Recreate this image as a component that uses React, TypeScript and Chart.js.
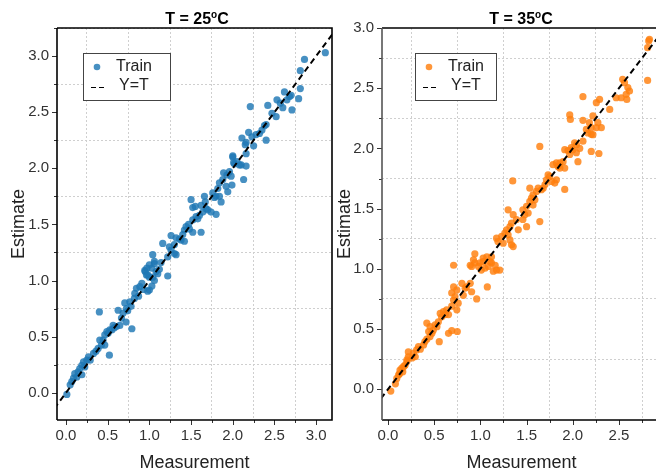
import React, { useEffect, useRef } from 'react';
import { Chart, registerables } from 'chart.js';

Chart.register(...registerables);

// ---------- data ----------
const MEAS_25 = [
  0.01, 0.05, 0.07, 0.09, 0.13, 0.19, 0.105, 0.145, 0.165, 0.225, 0.19, 0.21, 0.25, 0.29, 0.27, 0.52,
  0.385, 0.425, 0.465, 0.405, 0.445, 0.465, 0.505, 0.49, 0.525, 0.565, 0.605, 0.645, 0.79, 0.72, 0.665,
  0.685, 0.625, 0.40, 0.725, 0.705, 0.765, 0.82, 0.825, 0.845, 0.885, 0.91, 0.98, 1.00, 1.03, 1.06, 1.00,
  0.965, 0.945, 1.10, 1.03, 1.06, 1.22, 0.97, 1.00, 1.06, 1.04, 1.08, 0.95, 0.98, 1.04, 1.22, 1.30, 1.32,
  1.26, 1.24, 1.16, 1.30, 1.42, 1.38, 1.32, 1.26, 1.52, 1.62, 1.42, 1.48, 1.44, 1.58, 1.52, 1.56, 1.70,
  1.74, 1.80, 1.55, 1.52, 1.50, 1.64, 1.68, 1.62, 1.67, 1.66, 1.86, 1.80, 1.84, 1.82, 1.84, 1.94, 1.92,
  1.99, 2.13, 1.98, 1.88, 1.93, 1.89, 2.16, 2.10, 2.02, 2.00, 2.16, 2.15, 2.11, 2.01, 2.08, 2.00, 2.16,
  2.25, 2.23, 2.40, 2.19, 2.32, 2.38, 2.40, 2.21, 2.42, 2.52, 2.60, 2.53, 2.65, 2.68, 2.70, 2.62, 2.71,
  2.79, 2.81, 2.81, 2.86, 3.11,
  0.33, 0.36, 0.55, 0.58, 0.74, 0.78, 0.87, 0.93, 1.12, 1.14, 1.36, 1.40, 1.47, 1.60, 1.76, 1.78, 1.96,
  2.05, 2.28, 2.35, 2.47, 2.57,
];
const EST_25 = [
  -0.015, 0.07, 0.10, 0.13, 0.14, 0.16, 0.17, 0.185, 0.215, 0.23, 0.245, 0.275, 0.29, 0.29, 0.32, 0.335,
  0.395, 0.425, 0.425, 0.47, 0.47, 0.515, 0.53, 0.545, 0.56, 0.60, 0.59, 0.60, 0.57, 0.63, 0.665,
  0.71, 0.735, 0.72, 0.75, 0.80, 0.81, 0.84, 0.885, 0.93, 0.945, 0.975, 0.905, 0.915, 0.95, 1.00, 1.03,
  1.05, 1.09, 1.06, 1.11, 1.15, 1.04, 1.11, 1.14, 1.17, 1.23, 1.08, 1.08, 1.05, 1.03, 1.21, 1.24, 1.23,
  1.27, 1.30, 1.33, 1.32, 1.35, 1.36, 1.38, 1.40, 1.43, 1.43, 1.45, 1.46, 1.48, 1.55, 1.54, 1.57, 1.63,
  1.61, 1.59, 1.66, 1.65, 1.72, 1.61, 1.64, 1.67, 1.70, 1.75, 1.70, 1.75, 1.75, 1.82, 1.87, 1.79, 1.84,
  1.85, 1.90, 1.93, 1.90, 1.94, 1.96, 2.02, 2.03, 2.04, 2.10, 2.13, 2.21, 2.27, 2.05, 2.03, 2.11, 2.23,
  2.20, 2.28, 2.25, 2.32, 2.31, 2.38, 2.39, 2.55, 2.56, 2.46, 2.54, 2.61, 2.61, 2.64, 2.65, 2.68, 2.52,
  2.62, 2.71, 2.87, 2.97, 3.03,
  0.35, 0.37, 0.56, 0.58, 0.73, 0.77, 0.86, 0.92, 1.10, 1.16, 1.37, 1.41, 1.50, 1.58, 1.78, 1.74, 1.97,
  2.06, 2.30, 2.34, 2.49, 2.58,
];

const MEAS_35 = [
  0.03, 0.08, 0.095, 0.115, 0.125, 0.16, 0.13, 0.15, 0.17, 0.185, 0.205, 0.205, 0.22, 0.26, 0.295, 0.275,
  0.22, 0.31, 0.35, 0.33, 0.385, 0.555, 0.40, 0.42, 0.455, 0.75, 0.655, 0.69, 0.475, 0.44, 0.49, 0.455,
  0.53, 0.51, 0.42, 0.545, 0.58, 0.565, 0.62, 0.655, 0.60, 0.635, 0.745, 0.69, 0.76, 0.71, 0.96, 0.725,
  0.815, 0.69, 0.905, 0.745, 0.835, 0.71, 0.85, 1.075, 0.80, 0.89, 0.71, 0.89, 0.94, 0.98, 1.01, 1.03,
  1.085, 1.12, 1.175, 1.21, 0.995, 1.05, 0.94, 0.925, 0.905, 1.03, 1.07, 1.105, 1.12, 1.16, 1.14, 1.175,
  1.19, 1.23, 1.247, 1.265, 1.284, 1.30, 1.32, 1.337, 1.355, 1.32, 1.337, 1.30, 1.355, 1.39, 1.41, 1.46,
  1.48, 1.46, 1.50, 1.517, 1.50, 1.535, 1.553, 1.57, 1.59, 1.57, 1.607, 1.643, 1.625, 1.66, 1.68, 1.70,
  1.715, 1.733, 1.75, 1.77, 1.805, 1.823, 1.913, 1.35, 1.535, 1.643, 1.787, 1.823, 1.84, 1.86, 1.895,
  1.913, 1.86, 1.913, 1.948, 1.967, 2.00, 2.04, 2.056, 2.075, 2.11, 2.20, 2.164, 2.218, 2.283, 2.039,
  1.984, 2.02, 1.967, 1.974, 2.11, 2.147, 2.20, 2.255, 2.309, 2.20, 2.218, 2.18, 2.272, 2.40, 2.255, 2.29,
  2.11, 2.47, 2.524, 2.585, 2.578, 2.614, 2.596, 2.56, 2.54, 2.81, 2.81, 2.822, 2.83,
];
const EST_35 = [
  -0.015, 0.045, 0.09, 0.12, 0.13, 0.145, 0.16, 0.175, 0.19, 0.20, 0.23, 0.245, 0.27, 0.26, 0.27, 0.30,
  0.31, 0.327, 0.333, 0.355, 0.368, 0.395, 0.396, 0.416, 0.438, 0.48, 0.465, 0.487, 0.466, 0.48, 0.49, 0.52,
  0.52, 0.535, 0.55, 0.56, 0.60, 0.63, 0.62, 0.62, 0.645, 0.66, 0.66, 0.69, 0.715, 0.74, 0.75, 0.77,
  0.78, 0.80, 0.81, 0.825, 0.84, 0.85, 0.85, 0.85, 0.88, 0.88, 1.03, 1.03, 1.05, 1.02, 0.99, 1.06,
  1.02, 1.05, 0.99, 0.99, 1.05, 1.005, 1.125, 1.075, 1.02, 1.09, 1.10, 1.06, 1.10, 1.03, 0.98, 1.255,
  1.227, 1.27, 1.213, 1.297, 1.324, 1.283, 1.24, 1.20, 1.185, 1.35, 1.38, 1.49, 1.45, 1.41, 1.324, 1.41,
  1.45, 1.49, 1.52, 1.463, 1.35, 1.56, 1.588, 1.53, 1.573, 1.615, 1.643, 1.393, 1.67, 1.657, 1.67, 1.70,
  1.74, 1.78, 1.767, 1.726, 1.712, 1.74, 1.66, 1.73, 1.67, 2.017, 1.865, 1.88, 1.85, 1.88, 1.89,
  1.837, 1.837, 1.99, 1.983, 1.95, 1.99, 2.03, 1.89, 2.00, 2.06, 1.975, 2.128, 2.114, 1.958, 1.964,
  2.006, 2.047, 2.278, 2.241, 2.233, 2.158, 2.172, 2.172, 2.172, 2.117, 2.27, 2.214, 2.214, 2.324, 2.38, 2.407,
  2.43, 2.421, 2.421, 2.407, 2.449, 2.477, 2.505, 2.546, 2.574, 2.565, 2.837, 2.893, 2.906,
];

const IDENTITY = [-1, 4];

const X_TICKS_25 = [0, 0.25, 0.5, 0.75, 1.0, 1.25, 1.5, 1.75, 2.0, 2.25, 2.5, 2.75, 3.0];
const Y_TICKS_25 = [0, 0.25, 0.5, 0.75, 1.0, 1.25, 1.5, 1.75, 2.0, 2.25, 2.5, 2.75, 3.0, 3.25];
const X_TICKS_35 = [0, 0.25, 0.5, 0.75, 1.0, 1.25, 1.5, 1.75, 2.0, 2.25, 2.5, 2.75];
const Y_TICKS_35 = [0, 0.25, 0.5, 0.75, 1.0, 1.25, 1.5, 1.75, 2.0, 2.25, 2.5, 2.75, 3.0];

const TITLE_25 = ['T = 25', 'o', 'C'];
const TITLE_35 = ['T = 35', 'o', 'C'];
const LEGEND_LABELS = ['Train', 'Y=T'];
const X_LABEL = 'Measurement';
const Y_LABEL = 'Estimate';

// ---------- styling ----------
const FONT = "'Liberation Sans', Arial, Helvetica, sans-serif";
const isMajor = (v: number) => Math.abs(v * 2 - Math.round(v * 2)) < 1e-6;

type PanelCfg = {
  id: string;
  left: number;
  width: number;
  yWidth: number;
  xMin: number; xMax: number; yMin: number; yMax: number;
  xTicks: number[]; yTicks: number[];
  meas: number[]; est: number[];
  color: string;
  title: string[];
  titleCx: number;
  legend: { x: number; y: number; w: number; h: number };
  leftBorder: string;
};

const PANELS: PanelCfg[] = [
  {
    id: 'p25', left: 0, width: 336, yWidth: 57,
    xMin: -0.108, xMax: 3.19, yMin: -0.243, yMax: 3.25,
    xTicks: X_TICKS_25, yTicks: Y_TICKS_25,
    meas: MEAS_25, est: EST_25,
    color: 'rgba(31,119,180,0.82)',
    title: TITLE_25, titleCx: 197,
    legend: { x: 83, y: 53, w: 87, h: 47 },
    leftBorder: '#000',
  },
  {
    id: 'p35', left: 326, width: 339, yWidth: 56,
    xMin: -0.065, xMax: 2.955, yMin: -0.255, yMax: 3.0,
    xTicks: X_TICKS_35, yTicks: Y_TICKS_35,
    meas: MEAS_35, est: EST_35,
    color: 'rgba(255,127,14,0.82)',
    title: TITLE_35, titleCx: 195,
    legend: { x: 89, y: 53, w: 81, h: 47 },
    leftBorder: '#555',
  },
];

function makeDecor(cfg: PanelCfg) {
  return {
    id: 'decor_' + cfg.id,
    afterDraw(chart: any) {
      const { ctx, chartArea: a, scales } = chart;
      const xs = scales.x, ys = scales.y;
      ctx.save();
      // tick marks
      ctx.strokeStyle = '#333';
      ctx.lineWidth = 1;
      ctx.beginPath();
      for (const v of cfg.xTicks) {
        const px = Math.round(xs.getPixelForValue(v)) + 0.5;
        const len = isMajor(v) ? 5 : 3;
        ctx.moveTo(px, a.bottom);
        ctx.lineTo(px, a.bottom + len);
      }
      for (const v of cfg.yTicks) {
        if (v > cfg.yMax + 1e-9) continue;
        const py = Math.round(ys.getPixelForValue(v)) + 0.5;
        const len = isMajor(v) ? 5 : 3;
        ctx.moveTo(a.left, py);
        ctx.lineTo(a.left - len, py);
      }
      ctx.stroke();
      // frame
      ctx.lineWidth = 1.6;
      ctx.strokeStyle = '#000';
      ctx.beginPath();
      ctx.moveTo(a.left, a.top);
      ctx.lineTo(a.right, a.top);
      ctx.lineTo(a.right, a.bottom);
      ctx.lineTo(a.left, a.bottom);
      ctx.stroke();
      ctx.strokeStyle = cfg.leftBorder;
      ctx.beginPath();
      ctx.moveTo(a.left, a.top);
      ctx.lineTo(a.left, a.bottom);
      ctx.stroke();

      // title with superscript
      const [pre, sup, post] = cfg.title;
      const big = `bold 16px ${FONT}`;
      const small = `bold 10px ${FONT}`;
      ctx.font = big;
      const w1 = ctx.measureText(pre).width;
      const w3 = ctx.measureText(post).width;
      ctx.font = small;
      const w2 = ctx.measureText(sup).width;
      const total = w1 + w2 + w3;
      let tx = cfg.titleCx - total / 2;
      const ty = 24;
      ctx.fillStyle = '#000';
      ctx.textBaseline = 'alphabetic';
      ctx.textAlign = 'left';
      ctx.font = big;
      ctx.fillText(pre, tx, ty);
      tx += w1;
      ctx.font = small;
      ctx.fillText(sup, tx, ty - 6);
      tx += w2;
      ctx.font = big;
      ctx.fillText(post, tx, ty);

      // legend
      const L = cfg.legend;
      ctx.lineWidth = 1;
      ctx.strokeStyle = '#444';
      ctx.fillStyle = '#fff';
      ctx.fillRect(L.x, L.y, L.w, L.h);
      ctx.strokeRect(L.x + 0.5, L.y + 0.5, L.w, L.h);
      ctx.fillStyle = cfg.color;
      ctx.beginPath();
      ctx.arc(L.x + 14, L.y + 14, 3.3, 0, Math.PI * 2);
      ctx.fill();
      ctx.strokeStyle = '#000';
      ctx.lineWidth = 1.2;
      ctx.setLineDash([5, 3]);
      ctx.beginPath();
      ctx.moveTo(L.x + 8, L.y + 34.5);
      ctx.lineTo(L.x + 22, L.y + 34.5);
      ctx.stroke();
      ctx.setLineDash([]);
      ctx.fillStyle = '#222';
      ctx.font = `16px ${FONT}`;
      ctx.textBaseline = 'middle';
      ctx.fillText(LEGEND_LABELS[0], L.x + 33, L.y + 14);
      ctx.fillText(LEGEND_LABELS[1], L.x + 36, L.y + 33);
      ctx.restore();
    },
  };
}

function Panel({ cfg }: { cfg: PanelCfg }) {
  const ref = useRef<HTMLCanvasElement | null>(null);
  useEffect(() => {
    if (!ref.current) return;
    const minorGrid = (c: any) =>
      c.tick && !isMajor(c.tick.value) ? '#cfcfcf' : 'rgba(0,0,0,0)';
    const chart = new Chart(ref.current, {
      type: 'scatter',
      data: {
        datasets: [
          {
            label: LEGEND_LABELS[1],
            data: IDENTITY.map((v) => ({ x: v, y: v })),
            showLine: true,
            borderColor: '#000',
            borderWidth: 2,
            borderDash: [6, 4],
            pointRadius: 0,
            order: 0,
          } as any,
          {
            label: LEGEND_LABELS[0],
            data: cfg.meas.map((m, i) => ({ x: m, y: cfg.est[i] })),
            backgroundColor: cfg.color,
            borderWidth: 0,
            pointRadius: 3.6,
            order: 1,
          },
        ],
      },
      options: {
        responsive: false,
        animation: false,
        devicePixelRatio: 1,
        layout: { padding: { top: 28, right: 3, left: 0, bottom: 0 } },
        plugins: {
          legend: { display: false },
          title: { display: false },
          tooltip: { enabled: false },
        },
        scales: {
          x: {
            type: 'linear',
            min: cfg.xMin,
            max: cfg.xMax,
            afterBuildTicks: (s: any) => {
              s.ticks = cfg.xTicks.map((v) => ({ value: v }));
            },
            afterFit: (s: any) => {
              s.height = 54;
            },
            grid: { color: minorGrid, lineWidth: 1, drawTicks: false },
            border: { display: false, dash: [2, 2] },
            ticks: {
              autoSkip: false,
              maxRotation: 0,
              padding: 7,
              color: '#333',
              font: { family: FONT, size: 15 },
              callback: (v: any) => (isMajor(Number(v)) ? Number(v).toFixed(1) : ''),
            },
            title: {
              display: true,
              text: X_LABEL,
              color: '#222',
              font: { family: FONT, size: 18 },
              padding: { top: 0, bottom: 0 },
            },
          },
          y: {
            type: 'linear',
            min: cfg.yMin,
            max: cfg.yMax,
            afterBuildTicks: (s: any) => {
              s.ticks = cfg.yTicks.map((v) => ({ value: v }));
            },
            afterFit: (s: any) => {
              s.width = cfg.yWidth;
            },
            grid: { color: minorGrid, lineWidth: 1, drawTicks: false },
            border: { display: false, dash: [2, 2] },
            ticks: {
              autoSkip: false,
              padding: 8,
              color: '#333',
              font: { family: FONT, size: 15 },
              callback: (v: any) => (isMajor(Number(v)) ? Number(v).toFixed(1) : ''),
            },
            title: {
              display: true,
              text: Y_LABEL,
              color: '#222',
              font: { family: FONT, size: 18 },
              padding: { top: 8, bottom: 0 },
            },
          },
        },
      } as any,
      plugins: [makeDecor(cfg)],
    });
    return () => chart.destroy();
  }, [cfg]);
  return (
    <canvas
      ref={ref}
      width={cfg.width}
      height={474}
      style={{ position: 'absolute', left: cfg.left, top: 0, width: cfg.width, height: 474 }}
    />
  );
}

export default function App() {
  return (
    <div
      style={{
        position: 'fixed',
        left: 0,
        top: 0,
        width: 656,
        height: 474,
        overflow: 'hidden',
        background: '#fff',
      }}
    >
      {PANELS.map((p) => (
        <Panel key={p.id} cfg={p} />
      ))}
    </div>
  );
}
